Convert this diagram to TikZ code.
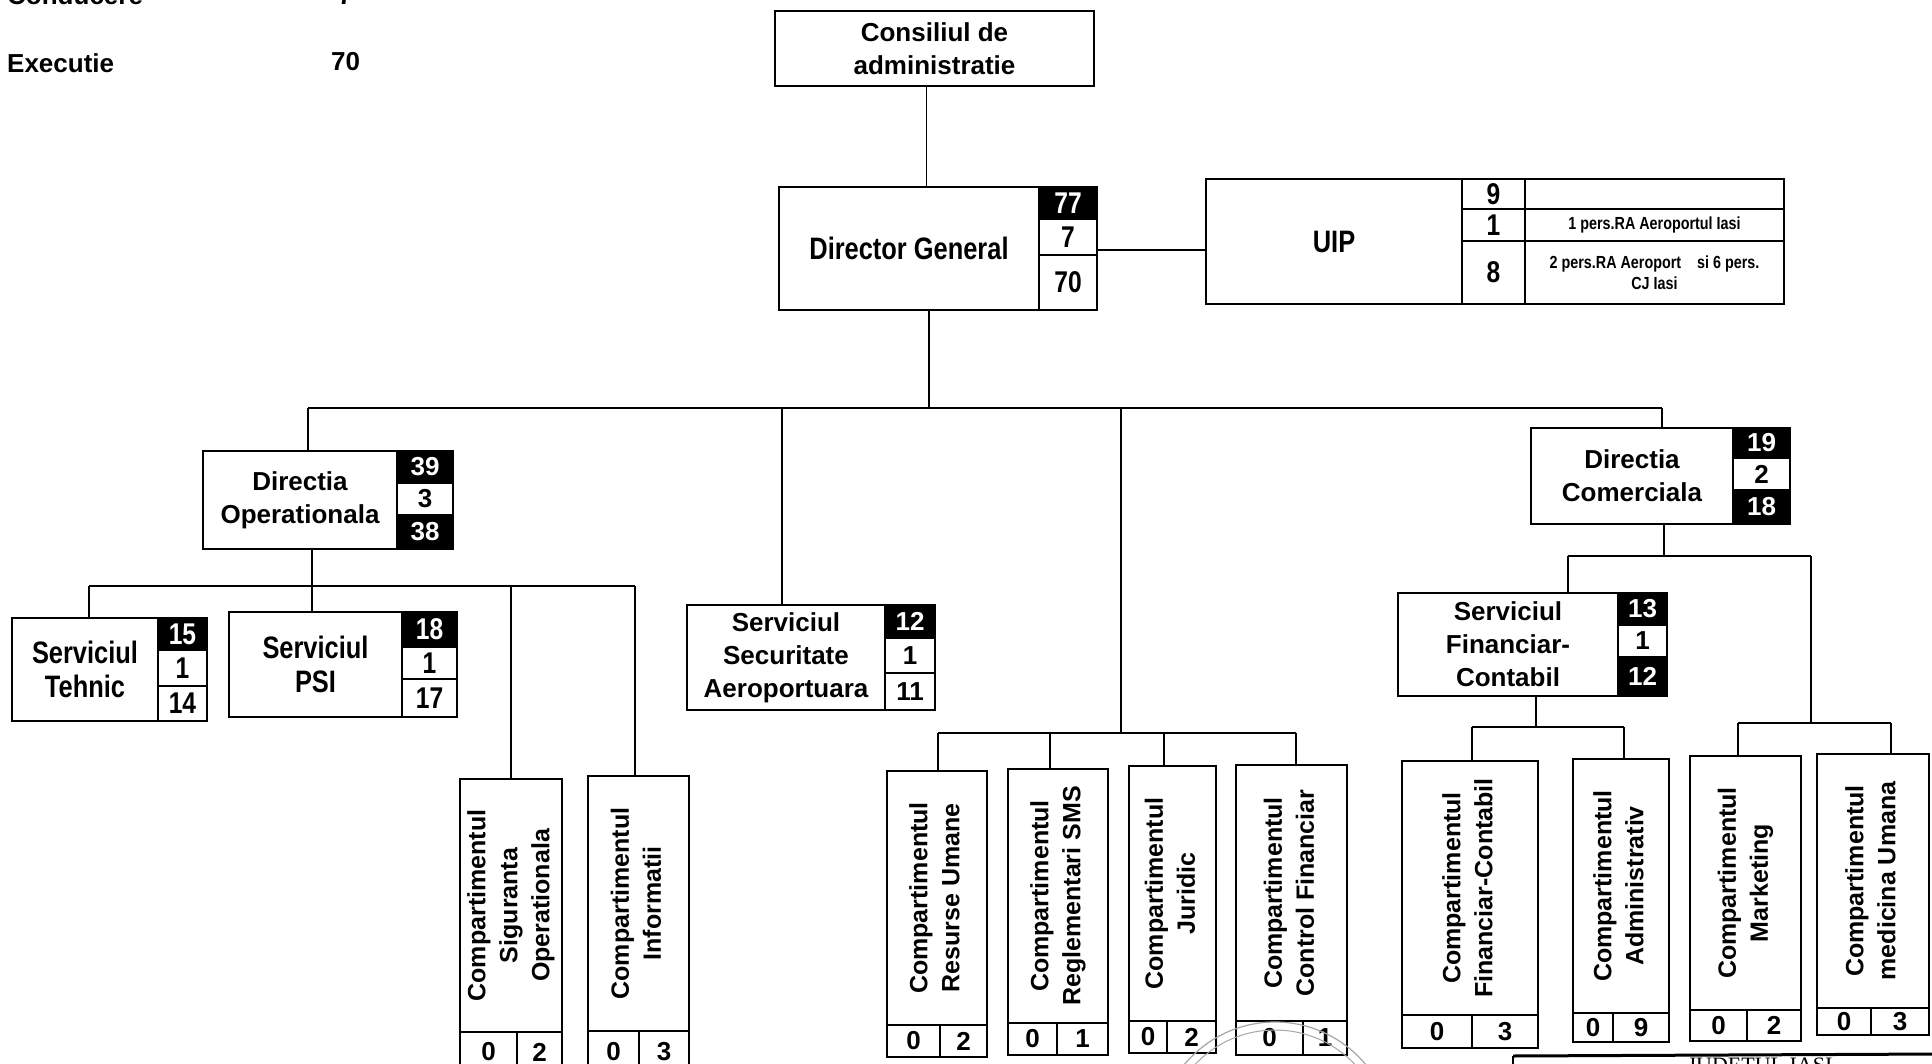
\documentclass[tikz,border=0pt]{standalone}
\usepackage{fontspec}
\setmainfont{Liberation Sans}
\newfontfamily\nar{Liberation Sans}[FakeStretch=0.82]
\newfontfamily\serf{Liberation Serif}
\usetikzlibrary{calc}
\newcommand\bx[6][]{\node[box,#1,minimum width={(#4)-(#2)},minimum height={(#5)-(#3)}] (#6) at (#2,#3)}
\newcommand\vb[9]{%
 \bx[vtxt]{#2}{#3}{#4}{#5}{#1}{\rotatebox{90}{\begin{tabular}{@{}c@{}}#8\end{tabular}}};
 \bx[num]{#2}{#5}{#7}{#6}{#1a}{0};
 \bx[num]{#7}{#5}{#4}{#6}{#1b}{#9};
}
\begin{document}
\begin{tikzpicture}[x=1pt,y=-1pt,
 box/.style={draw,line width=1.5pt,inner sep=0pt,outer sep=0pt,anchor=north west,align=center},
 txt/.style={font=\fontsize{26}{33}\selectfont\bfseries},
 ntxt/.style={font=\nar\fontsize{31}{34}\selectfont\bfseries},
 num/.style={font=\fontsize{26}{30}\selectfont\bfseries},
 nnum/.style={font=\nar\fontsize{30}{30}\selectfont\bfseries},
 vtxt/.style={font=\fontsize{25}{32}\selectfont\bfseries},
 small/.style={font=\nar\fontsize{17.5}{21}\selectfont\bfseries},
 blk/.style={fill=black,text=white},
 conn/.style={line width=1.5pt}]
\fill[white] (0,0) rectangle (1932,1064);
\useasboundingbox (0,0) rectangle (1932,1064);

% header figures
\node[txt,anchor=base west,inner sep=0pt] (cond) at (7,5) {Conducere};
\node[num,anchor=base west,inner sep=0pt] (condn) at (338,5) {7};
\node[txt,anchor=base west,inner sep=0pt] (exe) at (7,73) {Executie};
\node[num,anchor=base west,inner sep=0pt] (exen) at (331,71) {70};

% top
\bx[txt]{775}{11}{1094}{86}{cons}{Consiliul de\\administratie};

\bx[ntxt]{779}{187}{1039}{310}{dg}{Director General};
\bx[nnum,blk]{1039}{187}{1097}{219}{dga}{77};
\bx[nnum]{1039}{219}{1097}{255}{dgb}{7};
\bx[nnum]{1039}{255}{1097}{310}{dgc}{70};

\bx[ntxt]{1206}{179}{1462}{304}{uip}{UIP};
\bx[nnum]{1462}{179}{1525}{209}{uipa}{9};
\bx[nnum]{1462}{209}{1525}{241}{uipb}{1};
\bx[nnum]{1462}{241}{1525}{304}{uipc}{8};
\bx[small]{1525}{179}{1784}{209}{uipd}{};
\bx[small]{1525}{209}{1784}{241}{uipe}{1 pers.RA Aeroportul Iasi};
\bx[small]{1525}{241}{1784}{304}{uipf}{2 pers.RA Aeroport\ \ \ \ si 6 pers.\\CJ Iasi};

% level 2
\bx[txt]{203}{451}{397}{549}{do}{Directia\\Operationala};
\bx[num,blk]{397}{451}{453}{483}{doa}{39};
\bx[num]{397}{483}{453}{515}{dob}{3};
\bx[num,blk]{397}{515}{453}{549}{doc}{38};

\bx[txt]{687}{605}{885}{710}{ssa}{Serviciul\\Securitate\\Aeroportuara};
\bx[num,blk]{885}{605}{935}{638}{ssaa}{12};
\bx[num]{885}{638}{935}{673}{ssab}{1};
\bx[num]{885}{673}{935}{710}{ssac}{11};

\bx[txt]{1531}{428}{1733}{524}{dc}{Directia\\Comerciala};
\bx[num,blk]{1733}{428}{1790}{458}{dca}{19};
\bx[num]{1733}{458}{1790}{490}{dcb}{2};
\bx[num,blk]{1733}{490}{1790}{524}{dcc}{18};

% level 3
\bx[ntxt]{12}{618}{158}{721}{st}{Serviciul\\Tehnic};
\bx[nnum,blk]{158}{618}{207}{650}{sta}{15};
\bx[nnum]{158}{650}{207}{686}{stb}{1};
\bx[nnum]{158}{686}{207}{721}{stc}{14};

\bx[ntxt]{229}{612}{402}{717}{psi}{Serviciul\\PSI};
\bx[nnum,blk]{402}{612}{457}{647}{psia}{18};
\bx[nnum]{402}{647}{457}{679}{psib}{1};
\bx[nnum]{402}{679}{457}{717}{psic}{17};

\bx[txt]{1398}{593}{1618}{696}{sfc}{Serviciul\\Financiar-\\Contabil};
\bx[num,blk]{1618}{593}{1667}{625}{sfca}{13};
\bx[num]{1618}{625}{1667}{657}{sfcb}{1};
\bx[num,blk]{1618}{657}{1667}{696}{sfcc}{12};

% compartments
\vb{cso}{460}{779}{562}{1032}{1072}{517}{Compartimentul\\Siguranta\\Operationala}{2}
\vb{ci}{588}{776}{689}{1031}{1072}{639}{Compartimentul\\Informatii}{3}
\vb{cru}{887}{771}{987}{1025}{1057}{940}{Compartimentul\\Resurse Umane}{2}
\vb{crs}{1008}{769}{1108}{1023}{1055}{1057}{Compartimentul\\Reglementari SMS}{1}
\vb{cj}{1129}{766}{1216}{1021}{1053}{1167}{Compartimentul\\Juridic}{2}
\vb{ccf}{1236}{765}{1347}{1021}{1055}{1303}{Compartimentul\\Control Financiar}{1}
\vb{cfc}{1402}{761}{1538}{1015}{1048}{1472}{Compartimentul\\Financiar-Contabil}{3}
\vb{ca}{1573}{759}{1669}{1013}{1042}{1613}{Compartimentul\\Administrativ}{9}
\vb{cm}{1690}{756}{1801}{1010}{1041}{1747}{Compartimentul\\Marketing}{2}
\vb{cmu}{1817}{754}{1929}{1008}{1035}{1871}{Compartimentul\\medicina Umana}{3}

% connectors
\draw[conn] ([xshift=-8pt]cons.south) -- ([xshift=-8pt]cons.south |- dg.north);
\draw[conn] ([yshift=5pt]dgb.south east) -- ([yshift=5pt]dgb.south east -| uip.west);

\coordinate (b0) at (929,408);
\coordinate (bL) at (308,408);
\coordinate (bS) at (782,408);
\coordinate (bC) at (1121,408);
\coordinate (bR) at (1662,408);
\draw[conn] (dg.south -| b0) -- (b0);
\draw[conn] (bL) -- (bR);
\draw[conn] (bL) -- (bL |- do.north);
\draw[conn] (bS) -- (bS |- ssa.north);
\draw[conn] (bR) -- (bR |- dc.north);

\coordinate (c0) at (1121,733);
\coordinate (c1) at (938,733);
\coordinate (c2) at (1050,733);
\coordinate (c3) at (1164,733);
\coordinate (c4) at (1296,733);
\draw[conn] (bC) -- (c0);
\draw[conn] (c1) -- (c4);
\draw[conn] (c1) -- (c1 |- cru.north);
\draw[conn] (c2) -- (c2 |- crs.north);
\draw[conn] (c3) -- (c3 |- cj.north);
\draw[conn] (c4) -- (c4 |- ccf.north);

\coordinate (d0) at (312,586);
\coordinate (d1) at (89,586);
\coordinate (d3) at (511,586);
\coordinate (d4) at (635,586);
\draw[conn] (do.south -| d0) -- (d0);
\draw[conn] (d1) -- (d4);
\draw[conn] (d1) -- (d1 |- st.north);
\draw[conn] (d0) -- (d0 |- psi.north);
\draw[conn] (d3) -- (d3 |- cso.north);
\draw[conn] (d4) -- (d4 |- ci.north);

\coordinate (e0) at (1664,556);
\coordinate (e1) at (1568,556);
\coordinate (e2) at (1811,556);
\coordinate (e3) at (1811,723);
\coordinate (e4) at (1738,723);
\coordinate (e5) at (1891,723);
\draw[conn] (dc.south -| e0) -- (e0);
\draw[conn] (e1) -- (e2);
\draw[conn] (e1) -- (e1 |- sfc.north);
\draw[conn] (e2) -- (e3);
\draw[conn] (e4) -- (e5);
\draw[conn] (e4) -- (e4 |- cm.north);
\draw[conn] (e5) -- (e5 |- cmu.north);

\coordinate (f0) at (1536,727);
\coordinate (f1) at (1472,727);
\coordinate (f2) at (1624,727);
\draw[conn] (sfc.south -| f0) -- (f0);
\draw[conn] (f1) -- (f2);
\draw[conn] (f1) -- (f1 |- cfc.north);
\draw[conn] (f2) -- (f2 |- ca.north);

% stamp fragment
\coordinate (stc) at (1275,1140);
\draw[line width=1.2pt,gray!70] (stc) circle[radius=118];
\draw[line width=1pt,gray!70] (stc) circle[radius=110];

% fragment of the box at the bottom right
\coordinate (j0) at (1513,1056);
\coordinate (j1) at (1940,1054);
\draw[line width=3pt] (j0) -- (j1);
\draw[conn] (j0) -- ++(0,20);
\node[font=\serf\fontsize{22}{22}\selectfont,anchor=north,inner sep=0pt] (jud) at (1760,1058) {JUDETUL IASI};
\end{tikzpicture}
\end{document}
